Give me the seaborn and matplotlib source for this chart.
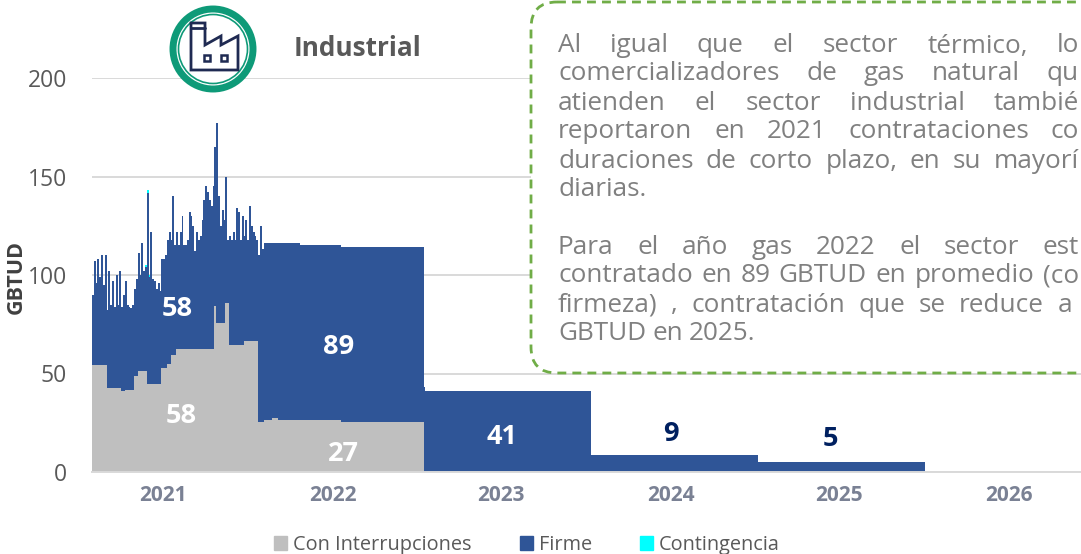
import numpy as np
import pandas as pd
import matplotlib.pyplot as plt
import seaborn as sns
from matplotlib.patches import Circle, FancyBboxPatch, Patch, Polygon, Rectangle

# dias desde el inicio de la serie (dic 2020): 94 bins de 4 dias y luego tramos
TRAMOS_DIAS = [376, 394, 407, 455, 546, 727, 730, 1093, 1459, 1823]

# techo de la pila (GBTUD), primeros 94 bins
TOTAL_DIARIO = [
    90, 107, 96, 108, 99, 110, 95, 110, 82, 102, 85, 97, 84, 100, 85, 102,
    84, 90, 97, 85, 84, 83, 85, 93, 98, 111, 100, 116, 102, 105, 143, 100,
    122, 98, 97, 93, 96, 92, 108, 108, 110, 118, 122, 118, 140, 115, 122, 115,
    122, 130, 115, 115, 118, 132, 130, 125, 112, 122, 118, 120, 128, 138, 145, 142,
    138, 135, 145, 165, 177, 140, 125, 133, 128, 150, 118, 120, 118, 122, 118, 134,
    132, 118, 130, 120, 128, 118, 135, 125, 122, 120, 118, 110, 125, 113,
]
INTERRUP_DIARIO = (
    [54.3] * 8 + [42.5] * 8 + [41] * 2 + [41.7] * 5 + [48.8] * 2 + [51.4] * 5
    + [44.5] * 8 + [52.6] * 3 + [54.6] * 2 + [59.4] * 3 + [62.5] * 21 + [84.4]
    + [75.8] * 5 + [86] * 2 + [64.5] * 8 + [66.5] * 8 + [25.5] * 3
)
CONTING_DIARIO = [0] * 29 + [1.0, 1.5, 0.8] + [0] * 62

TOTAL_TRAMOS = [116, 116, 116, 115, 114, 43, 41, 8.5, 5.3]
INTERRUP_TRAMOS = [26.4, 27.3, 26.4, 26.4, 25.5, 0, 0, 0, 0]

ANIOS = ['2021', '2022', '2023', '2024', '2025', '2026']
ANIOS_DIAS = [156, 528, 895, 1267, 1635, 2007]

GRIS, AZUL, CIAN = '#BFBFBF', '#2F5597', '#00FFFF'
FUENTE = 'Open Sans'

# el recuadro del original queda cortado por el borde derecho de la imagen
PARRAFO = [
    ('Al igual que el sector térmico, lo', 46, 1079),
    ('comercializadores de gas natural qu', 74, 1079),
    ('atienden el sector industrial tambié', 103, 1079),
    ('reportaron en 2021 contrataciones co', 132, 1079),
    ('duraciones de corto plazo, en su mayorí', 161, 1079),
    ('diarias.', 190, None),
    ('Para el año gas 2022 el sector est', 247, 1079),
    ('contratado en 89 GBTUD en promedio (co', 276, 1079),
    ('firmeza) , contratación que se reduce a', 305, 1072),
    ('GBTUD en 2025.', 334, None),
]

sns.set_theme(style='whitegrid')
plt.rcParams['font.family'] = [FUENTE, 'DejaVu Sans']

bordes = [int(b) for b in np.arange(0, 376, 4)] + TRAMOS_DIAS
total = np.array(TOTAL_DIARIO + TOTAL_TRAMOS, dtype=float)
interrup = np.array(INTERRUP_DIARIO + INTERRUP_TRAMOS, dtype=float)
conting = np.array(CONTING_DIARIO + [0] * len(TOTAL_TRAMOS), dtype=float)
firme = total - interrup - conting
centros = (np.array(bordes[:-1]) + np.array(bordes[1:])) / 2

df = pd.concat([
    pd.DataFrame({'dia': centros, 'gbtud': interrup, 'serie': 'Con Interrupciones'}),
    pd.DataFrame({'dia': centros, 'gbtud': firme, 'serie': 'Firme'}),
    pd.DataFrame({'dia': centros, 'gbtud': conting, 'serie': 'Contingencia'}),
], ignore_index=True)

fig = plt.figure(figsize=(10.81, 5.54), dpi=100)
ax = fig.add_axes([92 / 1081, 82 / 554, 989 / 1081, 394 / 554])
sns.histplot(
    data=df, x='dia', weights='gbtud', hue='serie', bins=bordes,
    hue_order=['Contingencia', 'Firme', 'Con Interrupciones'],
    palette={'Con Interrupciones': GRIS, 'Firme': AZUL, 'Contingencia': CIAN},
    multiple='stack', element='step', alpha=1, linewidth=0, legend=False, ax=ax,
)
ax.set_xlim(0, 2165)
ax.set_ylim(0, 200)
ax.set_yticks([0, 50, 100, 150, 200])
ax.set_xticks(ANIOS_DIAS)
ax.set_xticklabels(ANIOS, fontweight='bold', color='#7A8194', fontsize=15)
ax.tick_params(axis='y', length=0, labelsize=16.5, labelcolor='#595959', pad=18)
ax.tick_params(axis='x', length=0, pad=9.5)
ax.grid(False, axis='x')
ax.grid(True, axis='y', color='#D9D9D9', linewidth=1.4)
ax.set_axisbelow(True)
ax.set_xlabel('')
ax.set_ylabel('GBTUD', fontweight='bold', fontsize=15.5, color='#404040')
ax.yaxis.set_label_coords(-0.0657, 0.495)
sns.despine(ax=ax, left=True, right=True, top=True)
ax.spines['bottom'].set_color('#D9D9D9')
ax.spines['bottom'].set_linewidth(1.4)

etiquetas = [
    ('58', 186, 82.5, 'white'), ('58', 195, 28.5, 'white'), ('89', 539, 63.5, 'white'),
    ('27', 550, 9, 'white'), ('41', 897, 18, 'white'),
    ('9', 1267, 19.5, '#002060'), ('5', 1616, 16.5, '#002060'),
]
for txt, x, y, col in etiquetas:
    ax.text(x, y, txt, color=col, fontsize=19.5, fontweight='bold', ha='center', va='center')

ax.legend(
    handles=[Patch(color=GRIS, label='Con Interrupciones'), Patch(color=AZUL, label='Firme'),
             Patch(color=CIAN, label='Contingencia')],
    loc='center', bbox_to_anchor=(527 / 1081, 9 / 554), bbox_transform=fig.transFigure,
    ncol=3, frameon=False, fontsize=14.3, labelcolor='#595959', handlelength=0.68,
    handleheight=0.68, handletextpad=0.3, columnspacing=2.4,
)

# capa en pixeles para el icono, el titulo y el recuadro de texto
capa = fig.add_axes([0, 0, 1, 1], zorder=5)
capa.set_xlim(0, 1081)
capa.set_ylim(554, 0)
capa.axis('off')
capa.patch.set_alpha(0)

capa.add_patch(Circle((213, 49), 40, fc='white', ec='#0E9A78', lw=5))
capa.add_patch(Circle((213, 49), 34.5, fc='white', ec='#0E9A78', lw=1.2))
capa.add_patch(Polygon(
    [(191, 23), (191, 70), (238, 70), (238, 36), (221, 45), (221, 36), (205, 45), (205, 23)],
    closed=True, fc='none', ec='#1F2A52', lw=2))
capa.plot([191, 205], [28, 28], color='#1F2A52', lw=2)
capa.add_patch(Rectangle((204, 55), 6, 6, fc='none', ec='#1F2A52', lw=1.8))
capa.add_patch(Rectangle((221, 55), 6, 6, fc='none', ec='#1F2A52', lw=1.8))
capa.text(358, 49, 'Industrial', fontsize=18.8, fontweight='bold', color='#595959',
          ha='center', va='center')

capa.add_patch(FancyBboxPatch(
    (531, 2), 620, 371, boxstyle='round,pad=0,rounding_size=26', fc='white', ec='#70AD47',
    lw=2, linestyle=(0, (3.2, 2.2))))

fig.canvas.draw()
render = fig.canvas.get_renderer()
X0 = 558
for linea, y, x_fin in PARRAFO:
    palabras = linea.split(' ')
    trozos = [capa.text(X0, y, p, fontsize=18.8, color='#808080', va='center', ha='left')
              for p in palabras]
    anchos = [t.get_window_extent(render).width for t in trozos]
    hueco = (x_fin - X0 - sum(anchos)) / (len(palabras) - 1) if x_fin else 6
    x = X0
    for t, a in zip(trozos, anchos):
        t.set_x(x)
        x += a + hueco

fig.savefig('out.png', dpi=100)
